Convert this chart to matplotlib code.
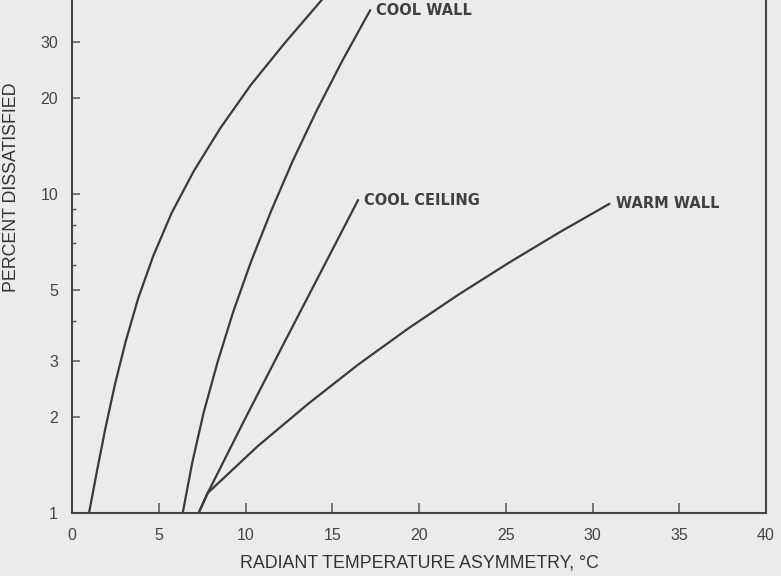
import matplotlib
matplotlib.use('Agg')
import matplotlib.pyplot as plt
from matplotlib.ticker import FixedLocator, NullFormatter

# datos (x = asimetria, y = % insatisfechos)
techo_caliente_x = [0.98, 1.45, 1.94, 2.48, 3.10, 3.82, 4.68, 5.74, 7.02, 8.55, 10.30, 12.26, 14.39, 16.6]
techo_caliente_y = [1.0, 1.364, 1.86, 2.537, 3.461, 4.72, 6.39, 8.72, 11.81, 16.1, 21.97, 29.75, 40.6, 55.3]

pared_fria_x = [6.38, 6.93, 7.59, 8.39, 9.29, 10.32, 11.47, 12.72, 14.10, 15.59, 17.19]
pared_fria_y = [1.0, 1.438, 2.067, 2.972, 4.273, 6.143, 8.834, 12.70, 18.26, 26.25, 37.74]

techo_frio_x = [7.30, 7.82, 9.97, 12.16, 14.34, 16.49]
techo_frio_y = [1.0, 1.155, 1.971, 3.362, 5.694, 9.58]

pared_caliente_x = [7.30, 7.82, 10.71, 13.61, 16.50, 19.40, 22.29, 25.19, 28.08, 30.98]
pared_caliente_y = [1.0, 1.155, 1.621, 2.199, 2.921, 3.796, 4.844, 6.095, 7.578, 9.324]

etiquetas = ['COOL WALL', 'COOL CEILING', 'WARM WALL']

xticks = [0, 5, 10, 15, 20, 25, 30, 35, 40]
yticks = [1, 2, 3, 5, 10, 20, 30]
yticks_menores = [4, 6, 7, 8, 9]

fondo = '#ebebeb'
tinta = '#3a3a3a'

fig = plt.figure(figsize=(7.81, 5.76), dpi=100, facecolor=fondo)
ax = fig.add_axes([0.0922, 0.1094, 0.8886, 0.8906])
ax.set_facecolor(fondo)

for xs, ys in [(techo_caliente_x, techo_caliente_y), (pared_fria_x, pared_fria_y),
               (techo_frio_x, techo_frio_y), (pared_caliente_x, pared_caliente_y)]:
    ax.plot(xs, ys, color=tinta, lw=1.6, solid_capstyle='round', solid_joinstyle='round')

# etiquetas de las curvas, al final de cada una
for xs, ys, txt in [(pared_fria_x, pared_fria_y, etiquetas[0]),
                    (techo_frio_x, techo_frio_y, etiquetas[1]),
                    (pared_caliente_x, pared_caliente_y, etiquetas[2])]:
    ax.text(xs[-1] + 0.35, ys[-1], txt, fontsize=10.5, fontweight='bold',
            family='DejaVu Sans', color='#404040', va='center', ha='left')

ax.set_yscale('log')
ax.set_xlim(0, 40)
ax.set_ylim(1, 40.6)

ax.set_xticks(xticks)
ax.set_xticklabels([str(v) for v in xticks])
ax.yaxis.set_major_locator(FixedLocator(yticks))
ax.set_yticklabels([str(v) for v in yticks])
ax.yaxis.set_minor_locator(FixedLocator(yticks_menores))
ax.yaxis.set_minor_formatter(NullFormatter())

ax.tick_params(axis='x', direction='in', length=7, width=1.1, colors='#555555',
               labelsize=11.5, pad=11, labelcolor='#444444')
ax.tick_params(axis='y', which='major', direction='in', length=6, width=1.1,
               colors='#555555', labelsize=11.5, pad=10, labelcolor='#444444')
ax.tick_params(axis='y', which='minor', direction='in', length=3, width=1.0,
               colors='#555555')
for lab in ax.get_xticklabels() + ax.get_yticklabels():
    lab.set_family('Liberation Sans')

ax.spines['top'].set_visible(False)
for s in ['left', 'bottom', 'right']:
    ax.spines[s].set_color('#444444')
    ax.spines[s].set_linewidth(1.5)

ax.set_xlabel('RADIANT TEMPERATURE ASYMMETRY, °C', family='Liberation Sans',
              fontsize=12.8, color='#333333')
ax.xaxis.set_label_coords(0.5, -0.08)
ax.set_ylabel('PERCENT DISSATISFIED', family='Liberation Sans',
              fontsize=12.8, color='#333333')
ax.yaxis.set_label_coords(-0.075, 0.635)

fig.savefig('out.png', dpi=100, facecolor=fondo)
